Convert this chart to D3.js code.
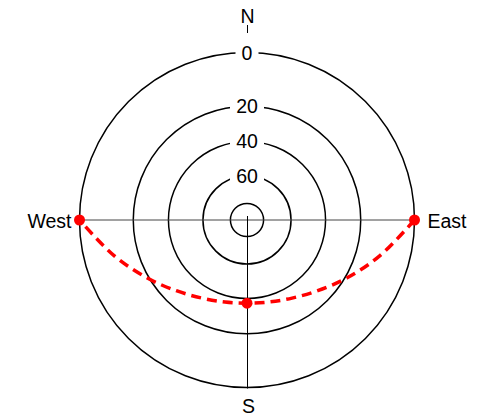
<!DOCTYPE html>
<html>
<head>
<meta charset="utf-8">
<script src="https://cdn.jsdelivr.net/npm/d3@7"></script>
<style>
  html, body { margin: 0; padding: 0; background: #fff; }
  svg { display: block; font-family: "Liberation Sans", Arial, sans-serif; }
</style>
</head>
<body>
<svg id="chart" width="479" height="417"></svg>
<script>
// Altitude rings (degrees above horizon) and their labels
const ringAltitudes = [0, 20, 40, 60, 80];
const ringLabels = ["0", "20", "40", "60"];

// Compass labels
const compassLabels = ["N", "East", "S", "West"];

// Equinox sun path: azimuth (deg from north, clockwise) and altitude (deg)
const pathAzimuth  = [90, 105, 120, 135, 150, 165, 180, 195, 210, 225, 240, 255, 270];
const pathAltitude = [0, 11.1, 19.3, 27.8, 33.4, 36.4, 37.4, 36.4, 33.4, 27.8, 19.3, 11.1, 0];

// Marked positions: sunrise, solar noon, sunset
const markAzimuth  = [90, 180, 270];
const markAltitude = [0, 37.4, 0];

const svg = d3.select("#chart");
const cx = 247, cy = 220, R = 167.5;

// Radial scale: altitude -> distance from the zenith (centre)
const rScale = d3.scaleLinear()
  .domain([0, 20, 40, 60, 80, 90])
  .range([1, 0.679, 0.469, 0.263, 0.099, 0].map(f => f * R));

const project = (az, alt) => {
  const a = az * Math.PI / 180, r = rScale(alt);
  return [cx + r * Math.sin(a), cy - r * Math.cos(a)];
};

// Rings
svg.append("g").selectAll("circle")
  .data(ringAltitudes)
  .join("circle")
  .attr("cx", cx).attr("cy", cy)
  .attr("r", d => rScale(d))
  .attr("fill", "none")
  .attr("stroke", "#000")
  .attr("stroke-width", 1.5);

// East-west axis
const west = project(270, 0), east = project(90, 0);
svg.append("line")
  .attr("x1", west[0]).attr("x2", east[0])
  .attr("y1", cy).attr("y2", cy)
  .attr("stroke", "#444").attr("stroke-width", 1);

// South meridian from the zenith down to the horizon ring
svg.append("line")
  .attr("x1", cx + 0.5).attr("x2", cx + 0.5)
  .attr("y1", cy - 4).attr("y2", cy + R + 1)
  .attr("stroke", "#000").attr("stroke-width", 1);

// Short north tick above the horizon ring
svg.append("line")
  .attr("x1", cx + 0.5).attr("x2", cx + 0.5)
  .attr("y1", 25).attr("y2", 33)
  .attr("stroke", "#000").attr("stroke-width", 1);

// Ring labels on white patches that break the rings
const lbl = svg.append("g").selectAll("g")
  .data(ringLabels)
  .join("g")
  .attr("transform", (d, i) => `translate(${cx},${cy - rScale(ringAltitudes[i])})`);
lbl.append("rect")
  .attr("x", d => -(d.length * 11 + 12) / 2)
  .attr("width", d => d.length * 11 + 12)
  .attr("y", -8).attr("height", 16)
  .attr("fill", "#fff");
lbl.append("text")
  .attr("text-anchor", "middle")
  .attr("y", 7)
  .attr("font-size", 19.5)
  .attr("fill", "#000")
  .text(d => d);

// Sun path
const line = d3.line().curve(d3.curveCatmullRom.alpha(0.5));
svg.append("path")
  .attr("d", line(pathAzimuth.map((az, i) => project(az, pathAltitude[i]))))
  .attr("fill", "none")
  .attr("stroke", "#ff0000")
  .attr("stroke-width", 3.5)
  .attr("stroke-dasharray", "10,6");

svg.append("g").selectAll("circle")
  .data(markAzimuth)
  .join("circle")
  .attr("cx", (d, i) => project(d, markAltitude[i])[0])
  .attr("cy", (d, i) => project(d, markAltitude[i])[1])
  .attr("r", 5.5)
  .attr("fill", "#ff0000");

// Compass labels
const fs = 19.5;
svg.append("text").attr("x", cx + 0.5).attr("y", 23)
  .attr("text-anchor", "middle").attr("font-size", fs).text(compassLabels[0]);
svg.append("text").attr("x", east[0] + 13).attr("y", cy + 7.5)
  .attr("text-anchor", "start").attr("font-size", fs).text(compassLabels[1]);
svg.append("text").attr("x", cx + 1.5).attr("y", 412.5)
  .attr("text-anchor", "middle").attr("font-size", fs).text(compassLabels[2]);
svg.append("text").attr("x", west[0] - 8).attr("y", cy + 7.5)
  .attr("text-anchor", "end").attr("font-size", fs).text(compassLabels[3]);
</script>
</body>
</html>
